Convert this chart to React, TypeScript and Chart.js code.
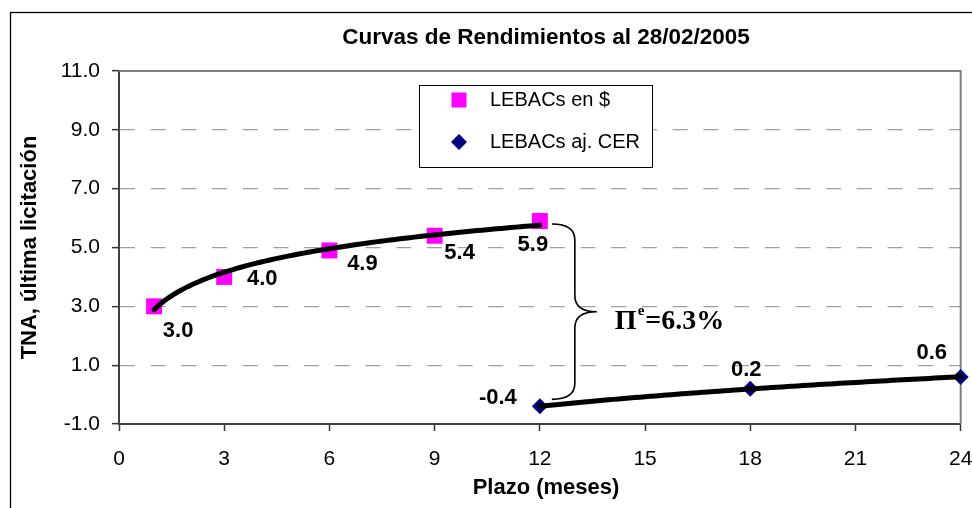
import React, { useEffect, useRef } from 'react';
import { Chart, registerables } from 'chart.js';

Chart.register(...registerables);

// ---------- data ----------
const chartTitle = 'Curvas de Rendimientos al 28/02/2005';
const xAxisTitle = 'Plazo (meses)';
const yAxisTitle = 'TNA, última licitación';
const pesosLabel = 'LEBACs en $';
const cerLabel = 'LEBACs aj. CER';
const pesosPlazos = [1, 3, 6, 9, 12];
const pesosTNA = [3.0, 4.0, 4.9, 5.4, 5.9];
const cerPlazos = [12, 18, 24];
const cerTNA = [-0.4, 0.2, 0.6];
const xTicks = [0, 3, 6, 9, 12, 15, 18, 21, 24];
const yTicks = [-1, 1, 3, 5, 7, 9, 11];
const inflationSymbol = 'Π';
const inflationSup = 'e';
const inflationText = '=6.3%';

// ---------- styling (label offsets in px) ----------
const pesosLabelOffsets = [[24, 25], [38, 2], [33, 13], [25, 17], [-7, 24]];
const cerLabelOffsets = [[-42, -8], [-4, -19], [-29, -24]];

const FONT = "'Liberation Sans', Arial, Helvetica, sans-serif";
const SERIF = "'Liberation Serif', 'Times New Roman', serif";
const PINK = '#FF00FF';
const NAVY = '#000080';

function logFit(xs: number[], ys: number[]) {
  const lx = xs.map((v) => Math.log(v));
  const n = xs.length;
  const mx = lx.reduce((a, b) => a + b, 0) / n;
  const my = ys.reduce((a, b) => a + b, 0) / n;
  let sxy = 0;
  let sxx = 0;
  for (let i = 0; i < n; i++) {
    sxy += (lx[i] - mx) * (ys[i] - my);
    sxx += (lx[i] - mx) * (lx[i] - mx);
  }
  const b = sxy / sxx;
  const a = my - b * mx;
  return { a, b };
}

const decorPlugin = {
  id: 'decor',
  beforeDatasetsDraw(chart: any) {
    const { ctx, chartArea } = chart;
    ctx.save();
    ctx.strokeStyle = '#808080';
    ctx.lineWidth = 2;
    ctx.beginPath();
    ctx.moveTo(chartArea.left, chartArea.top);
    ctx.lineTo(chartArea.right, chartArea.top);
    ctx.lineTo(chartArea.right, chartArea.bottom);
    ctx.stroke();
    ctx.restore();
  },
  afterDatasetsDraw(chart: any) {
    const { ctx } = chart;
    const xs = chart.scales.x;
    const ys = chart.scales.y;
    const drawTrend = (px: number[], py: number[]) => {
      const { a, b } = logFit(px, py);
      const x0 = Math.min(...px);
      const x1 = Math.max(...px);
      ctx.save();
      ctx.strokeStyle = '#000';
      ctx.lineWidth = 5;
      ctx.lineCap = 'round';
      ctx.lineJoin = 'round';
      ctx.beginPath();
      const steps = 80;
      for (let i = 0; i <= steps; i++) {
        const xv = x0 + ((x1 - x0) * i) / steps;
        const yv = a + b * Math.log(xv);
        const X = xs.getPixelForValue(xv);
        const Y = ys.getPixelForValue(yv);
        if (i === 0) ctx.moveTo(X, Y);
        else ctx.lineTo(X, Y);
      }
      ctx.stroke();
      ctx.restore();
    };
    drawTrend(pesosPlazos, pesosTNA);
    drawTrend(cerPlazos, cerTNA);

    // data labels
    ctx.save();
    ctx.fillStyle = '#000';
    ctx.font = `bold 22px ${FONT}`;
    ctx.textAlign = 'center';
    ctx.textBaseline = 'middle';
    pesosPlazos.forEach((xv, i) => {
      const X = xs.getPixelForValue(xv) + pesosLabelOffsets[i][0];
      const Y = ys.getPixelForValue(pesosTNA[i]) + pesosLabelOffsets[i][1];
      ctx.fillText(pesosTNA[i].toFixed(1), X, Y);
    });
    cerPlazos.forEach((xv, i) => {
      const X = xs.getPixelForValue(xv) + cerLabelOffsets[i][0];
      const Y = ys.getPixelForValue(cerTNA[i]) + cerLabelOffsets[i][1];
      ctx.fillText(cerTNA[i].toFixed(1), X, Y);
    });
    ctx.restore();
  },
  afterDraw(chart: any) {
    const { ctx } = chart;
    const xs = chart.scales.x;
    const ys = chart.scales.y;
    ctx.save();
    // outer frame
    ctx.strokeStyle = '#000';
    ctx.lineWidth = 1.3;
    ctx.strokeRect(10.5, 12.5, 1000, 1000);

    // title & x axis title
    ctx.fillStyle = '#000';
    ctx.textAlign = 'center';
    ctx.textBaseline = 'middle';
    ctx.font = `bold 22.5px ${FONT}`;
    ctx.fillText(chartTitle, 546, 37.5);
    ctx.font = `bold 22px ${FONT}`;
    ctx.fillText(xAxisTitle, 546, 488);

    // legend
    const lx = 419.5, ly = 85.5, lw = 233, lh = 82;
    ctx.fillStyle = '#fff';
    ctx.fillRect(lx, ly, lw, lh);
    ctx.strokeStyle = '#000';
    ctx.lineWidth = 1;
    ctx.strokeRect(lx, ly, lw, lh);
    const ds = chart.data.datasets;
    const mx = 459;
    const r1 = 100, r2 = 142;
    ctx.fillStyle = ds[0].backgroundColor;
    ctx.fillRect(mx - 7.5, r1 - 7.5, 15, 15);
    ctx.fillStyle = ds[1].backgroundColor;
    ctx.beginPath();
    ctx.moveTo(mx - 8, r2);
    ctx.lineTo(mx, r2 - 8);
    ctx.lineTo(mx + 8, r2);
    ctx.lineTo(mx, r2 + 8);
    ctx.closePath();
    ctx.fill();
    ctx.fillStyle = '#000';
    ctx.font = `20px ${FONT}`;
    ctx.textAlign = 'left';
    ctx.fillText(ds[0].label, 490, r1);
    ctx.fillText(ds[1].label, 490, r2);

    // brace between the two curves at 12 months
    const bx = xs.getPixelForValue(pesosPlazos[pesosPlazos.length - 1]) + 12;
    const top = ys.getPixelForValue(pesosTNA[pesosTNA.length - 1]) + 3;
    const bot = ys.getPixelForValue(cerTNA[0]) - 7;
    const mid = (top + bot) / 2;
    const bulge = bx + 23;
    const tip = bx + 45;
    const rr = 16;
    ctx.strokeStyle = '#000';
    ctx.lineWidth = 1.6;
    ctx.beginPath();
    ctx.moveTo(bx, top);
    ctx.quadraticCurveTo(bulge, top, bulge, top + rr);
    ctx.lineTo(bulge, mid - rr);
    ctx.quadraticCurveTo(bulge, mid, tip, mid);
    ctx.quadraticCurveTo(bulge, mid, bulge, mid + rr);
    ctx.lineTo(bulge, bot - rr);
    ctx.quadraticCurveTo(bulge, bot, bx, bot);
    ctx.stroke();

    // Π^e = 6.3%
    ctx.fillStyle = '#000';
    ctx.textBaseline = 'alphabetic';
    ctx.textAlign = 'left';
    let tx = tip + 18;
    const base = mid + 17;
    ctx.font = `bold 28px ${SERIF}`;
    ctx.fillText(inflationSymbol, tx, base);
    tx += ctx.measureText(inflationSymbol).width + 1;
    ctx.font = `bold 15px ${SERIF}`;
    ctx.fillText(inflationSup, tx, base - 14);
    tx += ctx.measureText(inflationSup).width + 1;
    ctx.font = `bold 28px ${SERIF}`;
    ctx.fillText(inflationText, tx, base);
    ctx.restore();
  },
};

export default function App() {
  const ref = useRef<HTMLCanvasElement | null>(null);
  useEffect(() => {
    if (!ref.current) return;
    const chart = new Chart(ref.current, {
      type: 'scatter',
      data: {
        datasets: [
          {
            label: pesosLabel,
            data: pesosPlazos.map((x, i) => ({ x, y: pesosTNA[i] })),
            pointStyle: 'rect',
            pointRadius: 11.3,
            pointHoverRadius: 11.3,
            backgroundColor: PINK,
            borderColor: PINK,
            borderWidth: 0,
            showLine: false,
            clip: false,
          },
          {
            label: cerLabel,
            data: cerPlazos.map((x, i) => ({ x, y: cerTNA[i] })),
            pointStyle: 'rectRot',
            pointRadius: 8,
            pointHoverRadius: 8,
            backgroundColor: NAVY,
            borderColor: NAVY,
            borderWidth: 0,
            showLine: false,
            clip: false,
          },
        ],
      },
      options: {
        responsive: false,
        maintainAspectRatio: false,
        animation: false,
        events: [],
        layout: { padding: { top: 71, right: 11, left: 0, bottom: 0 } },
        plugins: {
          legend: { display: false },
          title: { display: false },
          tooltip: { enabled: false },
        },
        scales: {
          x: {
            type: 'linear',
            min: 0,
            max: 24,
            afterFit: (s: any) => {
              s.height = 84;
              s.paddingLeft = 0;
              s.paddingRight = 0;
            },
            afterBuildTicks: (s: any) => {
              s.ticks = xTicks.map((v) => ({ value: v }));
            },
            ticks: {
              autoSkip: false,
              maxRotation: 0,
              color: '#000',
              padding: 16,
              font: { family: FONT, size: 21 },
            },
            grid: {
              drawOnChartArea: false,
              drawTicks: true,
              tickLength: 7,
              tickColor: '#333',
              tickWidth: 1.5,
            },
            border: { display: true, color: '#404040', width: 2 },
          },
          y: {
            type: 'linear',
            min: -1,
            max: 11,
            afterFit: (s: any) => {
              s.width = 119;
              s.paddingTop = 0;
              s.paddingBottom = 0;
            },
            afterBuildTicks: (s: any) => {
              s.ticks = yTicks.map((v) => ({ value: v }));
            },
            ticks: {
              autoSkip: false,
              color: '#000',
              padding: 12,
              font: { family: FONT, size: 21 },
              callback: (v: any) => Number(v).toFixed(1),
            },
            grid: {
              color: '#A0A0A0',
              lineWidth: 1.3,
              drawTicks: true,
              tickLength: 7,
              tickColor: '#333',
              tickWidth: 1.5,
              tickBorderDash: [],
            },
            border: { display: true, color: '#404040', width: 2, dash: [15, 15.7] },
            title: {
              display: true,
              text: yAxisTitle,
              color: '#000',
              font: { family: FONT, size: 22, weight: 'bold' },
              padding: { top: 17, bottom: 0 },
            },
          },
        },
      },
      plugins: [decorPlugin],
    } as any);
    return () => chart.destroy();
  }, []);
  return (
    <div style={{ position: 'absolute', left: 0, top: 0, width: 972, height: 508, background: '#fff' }}>
      <canvas ref={ref} width={972} height={508} style={{ display: 'block', width: 972, height: 508 }} />
    </div>
  );
}
